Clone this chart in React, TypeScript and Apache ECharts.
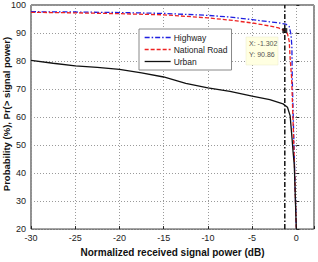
import React, { useEffect, useRef } from "react";
import * as echarts from "echarts";

const highwayX = [-30, -25, -20, -15, -10, -7.5, -5, -3, -2, -1.2, -0.8, -0.6, -0.5, -0.46, -0.24, 0];
const highwayY = [97.6, 97.5, 97.3, 97.0, 96.3, 95.7, 94.8, 94.0, 93.6, 93.2, 92.3, 89.5, 85, 74, 47, 20];
const nationalX = [-30, -25, -20, -15, -10, -7.5, -5, -3, -2, -1.302, -1, -0.8, -0.7, -0.53, -0.25, 0];
const nationalY = [97.4, 97.2, 96.9, 96.5, 95.4, 94.6, 93.6, 92.5, 91.8, 90.86, 89.8, 87, 81, 74, 47, 20];
const urbanX = [-30, -27.5, -25, -22.5, -20, -17.5, -15, -12.5, -10, -7.5, -5, -3, -1.5, -1, -0.7, -0.5, -0.35, -0.23, 0];
const urbanY = [80.2, 79.2, 78.3, 77.7, 77.0, 75.8, 74.3, 72.0, 70.4, 69.2, 67.5, 66.2, 64.7, 63.5, 60.5, 53, 47, 43, 20];
const tipX = -1.302;
const tipY = 90.86;
const seriesNames = ["Highway", "National Road", "Urban"];

const zip = (xs: number[], ys: number[]) => xs.map((x, i) => [x, ys[i]]);

export default function App() {
  const ref = useRef<HTMLDivElement>(null);
  useEffect(() => {
    if (!ref.current) return;
    const chart = echarts.init(ref.current, null, { renderer: "svg" });
    const font = "Liberation Sans, Arial, sans-serif";
    const styles = [
      { color: "#1f1fe0", type: [5, 2, 1.5, 2] },
      { color: "#ee2222", type: [4, 2] },
      { color: "#111111", type: "solid" },
    ];
    chart.setOption({
      animation: false,
      backgroundColor: "#ffffff",
      grid: { left: 31, right: 4, top: 5, bottom: 24, show: true, borderColor: "#222", borderWidth: 1, backgroundColor: "transparent" },
      xAxis: {
        type: "value",
        min: -30,
        max: 2,
        interval: 5,
        name: "Normalized received signal power (dB)",
        nameLocation: "middle",
        nameGap: 13,
        nameTextStyle: { fontFamily: font, fontWeight: "bold", fontSize: 10, color: "#111" },
        axisLine: { show: false },
        axisTick: { inside: true, length: 3, lineStyle: { color: "#222" } },
        axisLabel: {
          fontFamily: font, fontSize: 9, color: "#222", margin: 4,
          formatter: (v: number) => (Math.round(v) % 5 === 0 ? String(v) : ""),
        },
        splitLine: { show: true, lineStyle: { color: "#9a9a9a", type: [1, 2], width: 1 } },
      },
      yAxis: {
        type: "value",
        min: 20,
        max: 100,
        interval: 10,
        axisLine: { show: false },
        axisTick: { inside: true, length: 3, lineStyle: { color: "#222" } },
        axisLabel: { fontFamily: font, fontSize: 9, color: "#222", margin: 5 },
        splitLine: { show: true, lineStyle: { color: "#9a9a9a", type: [1, 2], width: 1 } },
      },
      legend: {
        data: seriesNames.map((name, i) => ({
          name,
          itemStyle: { opacity: 0 },
          lineStyle: { color: styles[i].color, type: styles[i].type, width: 1.3 },
        })),
        orient: "vertical",
        left: 139,
        top: 29,
        width: 91,
        backgroundColor: "#ffffff",
        borderColor: "#888",
        borderWidth: 1,
        padding: [4, 4, 4, 5],
        itemGap: 3,
        itemWidth: 26,
        itemHeight: 9,
        textStyle: { fontFamily: font, fontSize: 8.5, color: "#222", padding: [0, 0, 0, -2] },
      },
      graphic: [
        {
          type: "text",
          x: 6,
          y: 114,
          rotation: Math.PI / 2,
          style: {
            text: "Probability (%), Pr(> signal power)",
            fontFamily: font,
            fontWeight: "bold",
            fontSize: 9.5,
            fill: "#111",
            align: "center",
            verticalAlign: "middle",
          },
        },
        {
          type: "rect",
          shape: { x: 246, y: 37, width: 32, height: 28 },
          style: { fill: "#ffffe1", stroke: "#e8e8c8", lineWidth: 0.5 },
          z: 100,
        },
        {
          type: "text",
          x: 249,
          y: 43,
          style: { text: "X: " + tipX.toFixed(3), fontFamily: font, fontSize: 7, fill: "#555", verticalAlign: "middle" },
          z: 101,
        },
        {
          type: "text",
          x: 249,
          y: 54,
          style: { text: "Y: " + tipY.toFixed(2), fontFamily: font, fontSize: 7, fill: "#555", verticalAlign: "middle" },
          z: 101,
        },
      ],
      series: [
        {
          name: "Highway",
          type: "line",
          symbol: "none",
          data: zip(highwayX, highwayY),
          lineStyle: { color: styles[0].color, width: 1.3, type: styles[0].type },
          itemStyle: { color: styles[0].color },
          z: 3,
        },
        {
          name: "National Road",
          type: "line",
          symbol: "none",
          data: zip(nationalX, nationalY),
          lineStyle: { color: styles[1].color, width: 1.3, type: styles[1].type },
          itemStyle: { color: styles[1].color },
          z: 4,
        },
        {
          name: "Urban",
          type: "line",
          symbol: "none",
          data: zip(urbanX, urbanY),
          lineStyle: { color: styles[2].color, width: 1.3 },
          itemStyle: { color: styles[2].color },
          z: 5,
        },
        {
          name: "cursor",
          type: "line",
          symbol: "none",
          data: [[tipX, 20], [tipX, 100]],
          lineStyle: { color: "#111", width: 1.5, type: [5, 2, 1.5, 2] },
          z: 6,
        },
        {
          name: "tip",
          type: "scatter",
          symbol: "rect",
          symbolSize: 5,
          data: [[tipX, tipY]],
          itemStyle: { color: "#000" },
          z: 7,
        },
      ],
    });
    return () => chart.dispose();
  }, []);
  return <div ref={ref} style={{ width: 318, height: 262, position: "absolute", left: 0, top: 0 }} />;
}
